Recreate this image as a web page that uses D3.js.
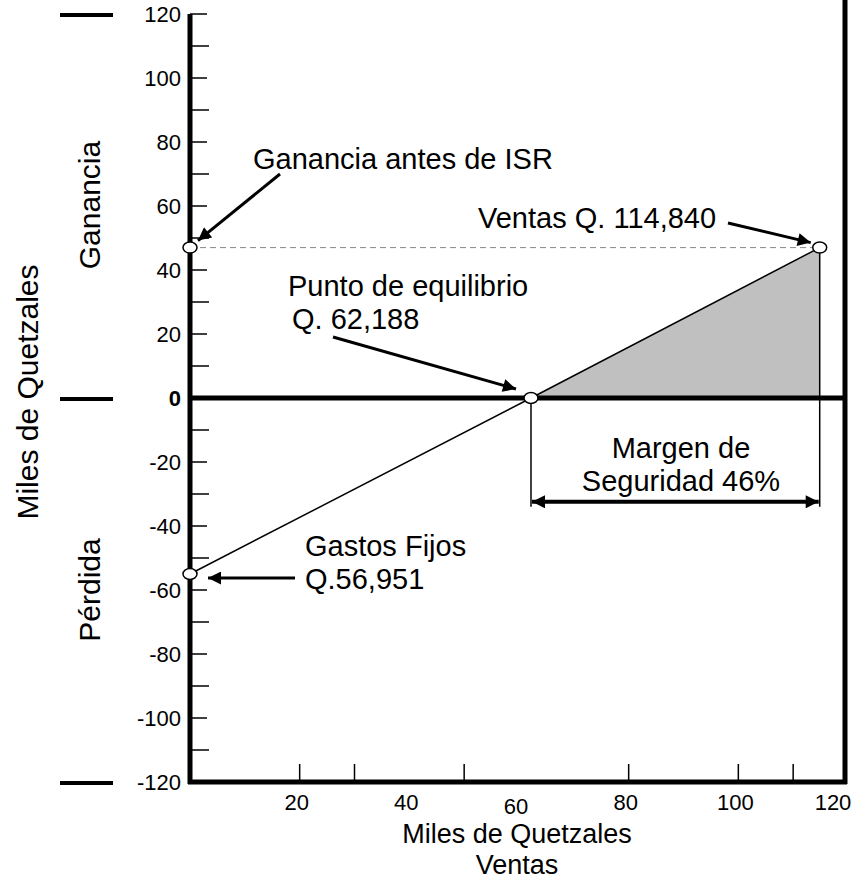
<!DOCTYPE html>
<html><head><meta charset="utf-8">
<script src="https://cdn.jsdelivr.net/npm/d3@7/dist/d3.min.js"></script>
<style>
html,body{margin:0;padding:0;background:#fff;}
svg{display:block;font-family:"Liberation Sans",Arial,sans-serif;}
</style></head>
<body>
<svg id="chart" width="857" height="883"></svg>
<script>
// ---- data ----
const xDomain = [0, 120];
const yDomain = [-120, 120];
const xTickLabels = [20, 40, 60, 80, 100, 120];
const xTickMarks = [20, 30, 50, 80, 100, 110];
const yTickLabels = [-120, -100, -80, -60, -40, -20, 0, 20, 40, 60, 80, 100, 120];
const yTickMinor = [-110, -90, -70, -50, -30, -10, 10, 30, 50, 70, 90, 110];
const profitLine = [{x: 0, y: -55}, {x: 62.188, y: 0}, {x: 114.84, y: 47}];
const points = [
  {name: "gananciaAxis", x: 0, y: 47},
  {name: "gastos", x: 0, y: -55},
  {name: "equilibrio", x: 62.188, y: 0},
  {name: "ventas", x: 114.84, y: 47}
];
const shade = [{x: 62.188, y: 0}, {x: 114.84, y: 47}, {x: 114.84, y: 0}];
const marginBottom = -34; // value at which the margin bracket ends

// ---- layout ----
const svg = d3.select("#chart");
const x = d3.scaleLinear().domain(xDomain).range([190, 848]);
const y = d3.scaleLinear().domain(yDomain).range([782, 14]);

const defs = svg.append("defs");
defs.append("marker").attr("id", "ah").attr("viewBox", "0 0 10 10")
  .attr("refX", 10).attr("refY", 5).attr("markerWidth", 19).attr("markerHeight", 13)
  .attr("markerUnits", "userSpaceOnUse").attr("orient", "auto-start-reverse")
  .append("path").attr("d", "M0,0 L10,5 L0,10 Z").attr("fill", "#000");

// shaded triangle
svg.append("path")
  .attr("d", d3.line().x(d => x(d.x)).y(d => y(d.y))(shade) + "Z")
  .attr("fill", "#c0c0c0").attr("stroke", "none");

// dashed line
svg.append("line")
  .attr("x1", x(0)).attr("x2", x(points[3].x))
  .attr("y1", y(47)).attr("y2", y(47))
  .attr("stroke", "#888").attr("stroke-width", 1).attr("stroke-dasharray", "6,4");

// zero line
svg.append("line").attr("x1", x(0)).attr("x2", 845).attr("y1", y(0)).attr("y2", y(0))
  .attr("stroke", "#000").attr("stroke-width", 5);

// vertical lines for margin
[points[2].x, points[3].x].forEach((v, i) => {
  svg.append("line").attr("x1", x(v)).attr("x2", x(v))
    .attr("y1", i === 0 ? y(0) : y(47)).attr("y2", y(marginBottom))
    .attr("stroke", "#000").attr("stroke-width", 1.5);
});

// margin double arrow
svg.append("line")
  .attr("x1", x(points[2].x) + 1).attr("x2", x(points[3].x) - 1)
  .attr("y1", y(marginBottom) - 5).attr("y2", y(marginBottom) - 5)
  .attr("stroke", "#000").attr("stroke-width", 4)
  .attr("marker-start", "url(#ah)").attr("marker-end", "url(#ah)");

// profit line
svg.append("path")
  .attr("d", d3.line().x(d => x(d.x)).y(d => y(d.y))(profitLine))
  .attr("fill", "none").attr("stroke", "#000").attr("stroke-width", 1.5);

// frame: left axis, right line, bottom axis
svg.append("line").attr("x1", x(0)).attr("x2", x(0)).attr("y1", y(120)).attr("y2", 784)
  .attr("stroke", "#000").attr("stroke-width", 5);
svg.append("line").attr("x1", 845).attr("x2", 845).attr("y1", 0).attr("y2", 784)
  .attr("stroke", "#000").attr("stroke-width", 5);
svg.append("line").attr("x1", x(0) - 2).attr("x2", 847).attr("y1", 782).attr("y2", 782)
  .attr("stroke", "#000").attr("stroke-width", 5);

// y ticks (inside, to the right)
const gy = svg.append("g");
gy.selectAll(".maj").data(yTickLabels.filter(v => v !== 0 && v !== -120)).join("line")
  .attr("x1", x(0)).attr("x2", x(0) + 17).attr("y1", d => y(d)).attr("y2", d => y(d))
  .attr("stroke", "#000").attr("stroke-width", 1.5);
gy.selectAll(".min").data(yTickMinor).join("line")
  .attr("x1", x(0)).attr("x2", x(0) + 19).attr("y1", d => y(d)).attr("y2", d => y(d))
  .attr("stroke", "#000").attr("stroke-width", 1.5);
gy.selectAll("text").data(yTickLabels).join("text")
  .attr("x", 181).attr("y", d => y(d)).attr("dy", "0.36em")
  .attr("text-anchor", "end").attr("font-size", 22)
  .attr("font-weight", d => d === 0 ? "bold" : "normal")
  .text(d => d);

// x ticks (inside, upward)
const gx = svg.append("g");
gx.selectAll("line").data(xTickMarks).join("line")
  .attr("x1", d => x(d)).attr("x2", d => x(d)).attr("y1", 782).attr("y2", 764)
  .attr("stroke", "#000").attr("stroke-width", 1.5);
gx.selectAll("text").data(xTickLabels).join("text")
  .attr("x", d => Math.min(x(d) - 3, 833)).attr("y", d => d === 60 ? 814 : 810)
  .attr("text-anchor", "middle").attr("font-size", 22)
  .text(d => d);

// left short bars
[120, 0, -120].forEach(v => {
  svg.append("line").attr("x1", 60).attr("x2", 113).attr("y1", y(v) + 1).attr("y2", y(v) + 1)
    .attr("stroke", "#000").attr("stroke-width", 4);
});

// axis titles
svg.append("text").attr("transform", `translate(100,205) rotate(-90)`)
  .attr("text-anchor", "middle").attr("font-size", 30).text("Ganancia");
svg.append("text").attr("transform", `translate(100,590) rotate(-90)`)
  .attr("text-anchor", "middle").attr("font-size", 30).text("Pérdida");
svg.append("text").attr("transform", `translate(38,392) rotate(-90)`)
  .attr("text-anchor", "middle").attr("font-size", 30).text("Miles de Quetzales");
svg.append("text").attr("x", 517).attr("y", 843).attr("text-anchor", "middle")
  .attr("font-size", 27).text("Miles de Quetzales");
svg.append("text").attr("x", 517).attr("y", 874).attr("text-anchor", "middle")
  .attr("font-size", 27).text("Ventas");

// points
svg.selectAll(".pt").data(points).join("ellipse")
  .attr("cx", d => x(d.x)).attr("cy", d => y(d.y)).attr("rx", 7).attr("ry", 5.5)
  .attr("fill", "#fff").attr("stroke", "#000").attr("stroke-width", 1.5);

// annotations
function arrow(x1, y1, x2, y2) {
  svg.append("line").attr("x1", x1).attr("y1", y1).attr("x2", x2).attr("y2", y2)
    .attr("stroke", "#000").attr("stroke-width", 3).attr("marker-end", "url(#ah)");
}
function label(lines, xx, yy, anchor) {
  const t = svg.append("text").attr("font-size", 29).attr("text-anchor", anchor || "start");
  lines.forEach((s, i) => t.append("tspan").attr("x", xx[i]).attr("y", yy + i * 33).text(s));
}
label(["Ganancia antes de ISR"], [253], 169);
arrow(280, 174, x(0) + 8, y(47) - 7);
label(["Ventas Q. 114,840"], [478], 228);
arrow(728, 223, x(114.84) - 9, y(47) - 5);
label(["Punto de equilibrio", "Q. 62,188"], [288, 292], 296);
arrow(333, 337, x(62.188) - 15, y(0) - 9);
label(["Gastos Fijos", "Q.56,951"], [305, 305], 556);
arrow(295, 578, x(0) + 18, 578);
label(["Margen de", "Seguridad 46%"], [681, 681], 458, "middle");
</script>
</body></html>
